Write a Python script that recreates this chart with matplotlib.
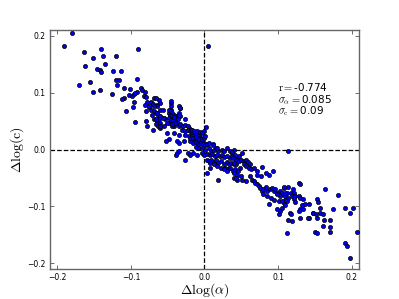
import numpy as np
import matplotlib
matplotlib.use("Agg")
import matplotlib.pyplot as plt

plt.rcParams['mathtext.fontset'] = 'cm'

# points: (dlog alpha, dlog c)
pts = [
    # sparse upper-left tail
    (-0.180, 0.204), (-0.191, 0.182), (-0.163, 0.171), (-0.140, 0.177), (-0.152, 0.160),
    (-0.138, 0.164), (-0.120, 0.165), (-0.090, 0.177), (-0.162, 0.147), (-0.135, 0.150),
    (-0.146, 0.142), (-0.142, 0.139), (-0.141, 0.136), (-0.124, 0.137), (-0.113, 0.137),
    (-0.120, 0.122), (-0.116, 0.122), (-0.091, 0.123), (-0.156, 0.118), (-0.119, 0.114),
    (-0.171, 0.114), (-0.110, 0.108), (-0.101, 0.106), (-0.142, 0.104), (-0.151, 0.101),
    (-0.125, 0.098), (-0.092, 0.101), (-0.102, 0.095), (-0.099, 0.094), (-0.096, 0.098),
    (-0.110, 0.091), (-0.112, 0.088), (-0.096, 0.084), (-0.097, 0.075), (0.005, 0.182),
    # upper band
    (-0.086, 0.108), (-0.085, 0.104), (-0.081, 0.101), (-0.094, 0.099), (-0.082, 0.094),
    (-0.079, 0.092), (-0.068, 0.091), (-0.062, 0.087), (-0.078, 0.083), (-0.072, 0.084),
    (-0.081, 0.079), (-0.076, 0.075), (-0.070, 0.080), (-0.065, 0.079), (-0.064, 0.076),
    (-0.061, 0.070), (-0.107, 0.067), (-0.080, 0.067), (-0.073, 0.069), (-0.069, 0.067),
    (-0.066, 0.064), (-0.063, 0.061), (-0.060, 0.058), (-0.095, 0.048), (-0.080, 0.050),
    (-0.069, 0.053), (-0.065, 0.050), (-0.062, 0.053), (-0.066, 0.044), (-0.063, 0.041),
    (-0.060, 0.047), (-0.060, 0.038), (-0.055, 0.041), (-0.046, 0.082), (-0.046, 0.076),
    (-0.047, 0.069), (-0.048, 0.064), (-0.046, 0.058), (-0.042, 0.053), (-0.037, 0.047),
    (-0.048, 0.047), (-0.042, 0.041), (-0.035, 0.041), (-0.037, 0.058), (-0.035, 0.064),
    (-0.053, 0.053), (-0.055, 0.056),
    (-0.051, 0.029), (-0.048, 0.018), (-0.044, 0.041), (-0.042, 0.061), (-0.033, 0.058),
    (-0.033, 0.073), (-0.026, 0.053), (-0.021, 0.038), (-0.042, 0.029), (-0.035, 0.026),
    (-0.028, 0.015), (-0.019, 0.015), (-0.010, 0.015), (-0.052, 0.015), (-0.046, 0.070),
    (-0.071, 0.061), (-0.064, 0.064), (-0.057, 0.070), (-0.066, 0.053), (-0.057, 0.056),
    (-0.078, 0.041), (-0.070, 0.035), (-0.060, 0.042), (-0.076, 0.076), (-0.069, 0.077),
    (-0.066, 0.090), (-0.060, 0.082),
    (-0.046, 0.085), (-0.034, 0.076), (-0.033, 0.072), (-0.048, 0.070), (-0.046, 0.067),
    (-0.044, 0.064), (-0.047, 0.061), (-0.045, 0.058), (-0.048, 0.056), (-0.044, 0.054),
    (-0.042, 0.057), (-0.046, 0.051), (-0.043, 0.050), (-0.040, 0.047), (-0.044, 0.044),
    (-0.035, 0.061), (-0.036, 0.053), (-0.051, 0.047), (-0.033, 0.044), (-0.029, 0.041),
    (-0.026, 0.043), (-0.022, 0.041), (-0.030, 0.035), (-0.027, 0.033), (-0.023, 0.035),
    (-0.020, 0.032), (-0.018, 0.035), (-0.017, 0.029), (-0.013, 0.026), (-0.010, 0.028),
    (-0.008, 0.023), (-0.005, 0.020), (-0.026, 0.026), (-0.021, 0.023), (-0.019, 0.020),
    (-0.015, 0.018), (-0.012, 0.015), (0.002, 0.039), (-0.001, 0.032), (-0.003, 0.015),
    (-0.001, 0.012), (-0.037, 0.015), (-0.034, 0.012),
    # dense core around the origin
    (-0.017, 0.035), (-0.014, 0.032), (-0.010, 0.033), (-0.006, 0.031), (-0.003, 0.029),
    (-0.017, 0.023), (-0.015, 0.020), (-0.011, 0.022), (-0.008, 0.019), (-0.004, 0.018),
    (-0.001, 0.020), (0.001, 0.023), (-0.015, 0.012), (-0.012, 0.013), (-0.009, 0.010),
    (-0.005, 0.012), (-0.002, 0.009), (0.001, 0.008), (0.004, 0.010), (0.006, 0.012),
    (0.012, 0.009), (-0.012, 0.004), (-0.008, 0.002), (-0.003, 0.003), (0.001, 0.000),
    (0.006, 0.002), (0.009, -0.002), (0.013, 0.000), (0.016, 0.002), (0.019, -0.002),
    (0.024, 0.000), (0.026, -0.003), (0.030, 0.002), (0.035, -0.003), (0.038, -0.006),
    (0.040, 0.000), (-0.003, -0.006), (0.000, -0.009), (0.004, -0.008), (0.007, -0.010),
    (0.010, -0.008), (0.014, -0.012), (0.017, -0.009), (0.021, -0.012), (0.024, -0.010),
    (0.027, -0.013), (0.031, -0.012), (0.034, -0.015), (0.038, -0.012), (0.041, -0.015),
    (0.044, -0.013), (0.047, -0.012), (0.003, -0.018), (0.006, -0.020), (0.009, -0.019),
    (0.013, -0.022), (0.016, -0.019), (0.019, -0.023), (0.023, -0.020), (0.026, -0.025),
    (0.030, -0.022), (0.033, -0.026), (0.036, -0.023), (0.040, -0.026), (0.043, -0.025),
    (0.008, -0.032), (0.028, -0.032), (0.032, -0.035), (0.035, -0.033), (0.039, -0.037),
    (0.042, -0.035), (0.045, -0.038), (0.012, 0.008), (0.017, 0.003),
    (-0.039, -0.009), (-0.037, -0.006), (-0.035, -0.003), (-0.026, -0.018), (-0.023, -0.007),
    (-0.019, -0.009), (-0.015, -0.006), (-0.010, -0.009),
    # lower band
    (0.003, -0.041), (0.018, -0.054), (0.008, -0.023), (0.013, -0.026), (0.017, -0.029),
    (0.022, -0.032), (0.026, -0.035), (0.031, -0.038), (0.040, -0.041), (0.044, -0.044),
    (0.049, -0.047), (0.051, -0.053), (0.056, -0.056), (0.044, -0.053), (0.040, -0.050),
    (0.087, -0.096), (0.101, -0.114), (0.103, -0.108), (0.099, -0.105), (0.114, -0.123),
    (0.119, -0.126), (0.116, -0.111), (0.118, -0.114), (0.157, -0.111), (0.148, -0.111),
    (0.142, -0.120), (0.130, -0.120),
    (0.113, -0.002), (0.038, -0.004), (0.041, -0.009), (0.039, -0.015), (0.043, -0.018),
    (0.040, -0.023), (0.047, -0.020), (0.049, -0.018), (0.053, -0.020), (0.056, -0.019),
    (0.059, -0.022), (0.062, -0.025), (0.053, -0.026), (0.057, -0.029), (0.060, -0.032),
    (0.063, -0.035), (0.067, -0.033), (0.051, -0.006), (0.048, -0.032), (0.043, -0.050),
    (0.071, -0.037), (0.078, -0.031), (0.093, -0.038), (0.083, -0.041), (0.087, -0.044),
    (0.072, -0.044), (0.077, -0.047), (0.062, -0.047), (0.065, -0.053), (0.067, -0.056),
    (0.069, -0.058), (0.072, -0.061), (0.074, -0.064), (0.076, -0.067), (0.078, -0.073),
    (0.080, -0.070), (0.083, -0.066), (0.085, -0.073), (0.089, -0.070), (0.092, -0.067),
    (0.094, -0.073), (0.099, -0.076), (0.103, -0.073), (0.108, -0.067), (0.107, -0.079),
    (0.110, -0.082), (0.112, -0.076), (0.114, -0.085), (0.102, -0.082), (0.099, -0.079),
    (0.096, -0.070), (0.080, -0.079), (0.085, -0.082), (0.090, -0.085), (0.094, -0.088),
    (0.101, -0.091), (0.112, -0.091), (0.108, -0.094),
    # lower-right tail
    (0.108, -0.065), (0.114, -0.065), (0.120, -0.069), (0.129, -0.058), (0.130, -0.061),
    (0.105, -0.076), (0.110, -0.077), (0.117, -0.076), (0.121, -0.076), (0.119, -0.082),
    (0.123, -0.081), (0.128, -0.082), (0.130, -0.085), (0.134, -0.087), (0.121, -0.087),
    (0.110, -0.088), (0.105, -0.091), (0.109, -0.098), (0.105, -0.102), (0.123, -0.092),
    (0.133, -0.098), (0.137, -0.096), (0.142, -0.096), (0.130, -0.104), (0.128, -0.108),
    (0.134, -0.105), (0.153, -0.087), (0.154, -0.092), (0.157, -0.102), (0.147, -0.111),
    (0.140, -0.120), (0.151, -0.114), (0.153, -0.120), (0.164, -0.070), (0.181, -0.080),
    (0.175, -0.105), (0.191, -0.102), (0.202, -0.102), (0.198, -0.112), (0.161, -0.114),
    (0.162, -0.123), (0.170, -0.123), (0.161, -0.135), (0.171, -0.136), (0.170, -0.145),
    (0.112, -0.146), (0.150, -0.145), (0.153, -0.146), (0.207, -0.145), (0.191, -0.165),
    (0.194, -0.170), (0.197, -0.191),
]
dlog_alpha = [p[0] for p in pts]
dlog_c = [p[1] for p in pts]

stats_text = [r'$\mathrm{r}=$-0.774', r'$\sigma_\alpha=$0.085', r'$\sigma_\mathrm{c}=$0.09']

fig = plt.figure(figsize=(3.99, 2.99), dpi=100)
ax = fig.add_axes([0.125, 0.1, 0.775, 0.8])

ax.scatter(dlog_alpha, dlog_c, s=9, c='#0000ee', edgecolors='k', linewidths=0.5, zorder=3)
ax.axhline(0, color='k', ls='--', lw=0.9, zorder=2)
ax.axvline(0, color='k', ls='--', lw=0.9, zorder=2)

ax.set_xlim(-0.21, 0.21)
ax.set_ylim(-0.21, 0.21)
ax.set_xticks([-0.2, -0.1, 0.0, 0.1, 0.2])
ax.set_yticks([-0.2, -0.1, 0.0, 0.1, 0.2])
ax.tick_params(direction='in', top=True, right=True, labelsize=5.5, length=3,
               width=0.6, color='#555555', pad=3)
for sp in ax.spines.values():
    sp.set_color('#666666')
    sp.set_linewidth(1.0)

ax.set_xlabel(r'$\Delta\log(\alpha)$', fontsize=10, labelpad=-1)
ax.set_ylabel(r'$\Delta\log(\mathrm{c})$', fontsize=10, labelpad=1)

for i, t in enumerate(stats_text):
    ax.text(0.1, 0.109 - 0.021 * i, t, fontsize=7.5, va='center', ha='left')

fig.savefig('out.png', dpi=100)
